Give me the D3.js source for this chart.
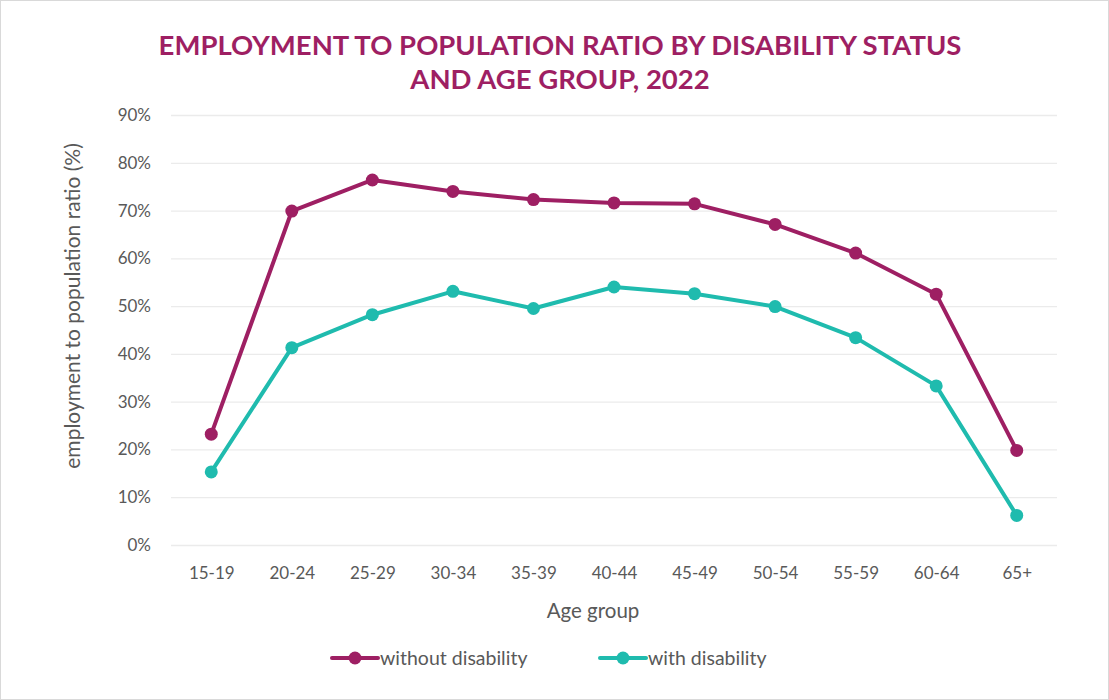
<!DOCTYPE html>
<html>
<head>
<meta charset="utf-8">
<script src="https://cdn.jsdelivr.net/npm/d3@7"></script>
<style>
  body { margin: 0; background: #fff; }
  text { font-family: Lato, "Open Sans", sans-serif; }
</style>
</head>
<body>
<div class="chart"></div>
<script>
// data
var ageGroups = ['15-19', '20-24', '25-29', '30-34', '35-39', '40-44', '45-49', '50-54', '55-59', '60-64', '65+'];
var withoutDisability = [23.2, 69.9, 76.4, 74.0, 72.3, 71.6, 71.4, 67.1, 61.1, 52.5, 19.8];
var withDisability = [15.3, 41.3, 48.2, 53.1, 49.5, 54.0, 52.6, 49.9, 43.4, 33.3, 6.2];
var yTicks = [0, 10, 20, 30, 40, 50, 60, 70, 80, 90];

var seriesNames = ['without disability', 'with disability'];
var colours = ['#9E1F63', '#1FBBAE'];

var width = 1109,
    height = 700;

var svg = d3.select('.chart')
    .append('svg')
    .attr('width', width)
    .attr('height', height);

// outer frame
svg.append('rect')
    .attr('x', 0.5).attr('y', 0.5)
    .attr('width', width - 1).attr('height', height - 1)
    .attr('fill', '#fff')
    .attr('stroke', '#d9d9d9');

var plotLeft = 171, plotRight = 1057, plotTop = 115, plotBottom = 545;

var x = d3.scalePoint()
    .domain(ageGroups)
    .range([plotLeft, plotRight])
    .padding(0.5);

var y = d3.scaleLinear()
    .domain([0, 90])
    .range([plotBottom, plotTop]);

// title
svg.append('text')
    .attr('x', 560).attr('y', 55)
    .attr('text-anchor', 'middle')
    .attr('fill', '#9E1F63')
    .attr('font-weight', 'bold')
    .attr('font-size', 27.5)
    .selectAll('tspan')
    .data(['EMPLOYMENT TO POPULATION RATIO BY DISABILITY STATUS', 'AND AGE GROUP, 2022'])
    .enter().append('tspan')
    .attr('x', 560)
    .attr('dy', function(d, i) { return i ? 34 : 0; })
    .text(function(d) { return d; });

// gridlines + y axis
var yAxis = d3.axisLeft(y)
    .tickValues(yTicks)
    .tickSize(-(plotRight - plotLeft))
    .tickPadding(20)
    .tickFormat(function(d) { return d + '%'; });

var gy = svg.append('g')
    .attr('transform', 'translate(' + plotLeft + ',0)')
    .call(yAxis);
gy.select('.domain').remove();
gy.selectAll('.tick line').attr('stroke', '#ebebeb').attr('stroke-width', 1.3);
gy.selectAll('.tick text')
    .attr('fill', '#595959')
    .attr('font-size', 17)
    .attr('font-family', 'Lato, "Open Sans", sans-serif');

// x axis
var xAxis = d3.axisBottom(x).tickSize(0).tickPadding(22);
var gx = svg.append('g')
    .attr('transform', 'translate(0,' + plotBottom + ')')
    .call(xAxis);
gx.select('.domain').remove();
gx.selectAll('.tick text')
    .attr('fill', '#595959')
    .attr('font-size', 17)
    .attr('font-family', 'Lato, "Open Sans", sans-serif');

// axis titles
svg.append('text')
    .attr('x', 593).attr('y', 618)
    .attr('text-anchor', 'middle')
    .attr('fill', '#595959')
    .attr('font-size', 20.5)
    .text('Age group');

svg.append('text')
    .attr('transform', 'translate(80,306) rotate(-90)')
    .attr('text-anchor', 'middle')
    .attr('fill', '#595959')
    .attr('font-size', 21)
    .text('employment to population ratio (%)');

// lines
var series = [withoutDisability, withDisability];
var line = d3.line()
    .x(function(d, i) { return x(ageGroups[i]); })
    .y(function(d) { return y(d); });

series.forEach(function(values, s) {
    var g = svg.append('g');
    g.append('path')
        .datum(values)
        .attr('d', line)
        .attr('fill', 'none')
        .attr('stroke', colours[s])
        .attr('stroke-width', 4)
        .attr('stroke-linejoin', 'round');
    g.selectAll('circle')
        .data(values)
        .enter().append('circle')
        .attr('cx', function(d, i) { return x(ageGroups[i]); })
        .attr('cy', function(d) { return y(d); })
        .attr('r', 6.5)
        .attr('fill', colours[s]);
});

// legend
var legendX = [332, 600];
var legend = svg.selectAll('.legend')
    .data(seriesNames)
    .enter().append('g')
    .attr('class', 'legend')
    .attr('transform', function(d, i) { return 'translate(' + legendX[i] + ',658)'; });

legend.append('line')
    .attr('x1', 0).attr('x2', 46)
    .attr('stroke', function(d, i) { return colours[i]; })
    .attr('stroke-width', 4)
    .attr('stroke-linecap', 'round');
legend.append('circle')
    .attr('cx', 23).attr('r', 6.5)
    .attr('fill', function(d, i) { return colours[i]; });
legend.append('text')
    .attr('x', 48).attr('dy', '0.35em')
    .attr('fill', '#595959')
    .attr('font-size', 19.5)
    .text(function(d) { return d; });
</script>
</body>
</html>
